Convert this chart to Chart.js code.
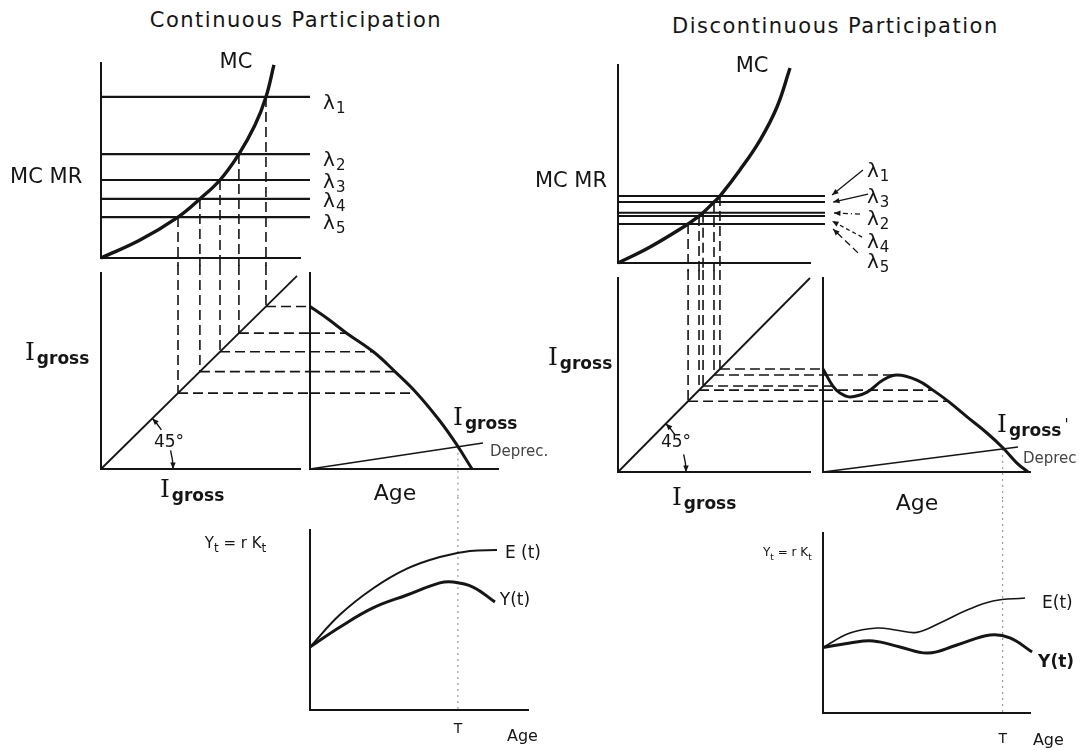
<!DOCTYPE html>
<html>
<head>
<meta charset="utf-8">
<script src="https://cdn.jsdelivr.net/npm/chart.js@4.4.1/dist/chart.umd.min.js"></script>
<style>
  html, body { margin: 0; background: #fff; }
  #page { position: relative; width: 1087px; height: 750px; overflow: hidden; }
  .title { position: absolute; font: 21px "DejaVu Sans", sans-serif; letter-spacing: 1.5px; color: #151515; text-align: center; white-space: nowrap; }
  canvas { position: absolute; }
</style>
</head>
<body>
<div id="page">
  <div class="title" style="left:146px;top:8px;width:300px">Continuous Participation</div>
  <div class="title" style="left:672px;top:14px;width:300px">Discontinuous Participation</div>
</div>
<script>
const INK = '#151515';
const F = '"DejaVu Sans", sans-serif';

// ---- Continuous participation (left)
const lambdaC = [8.26, 5.33, 4.00, 3.03, 2.10];          // λ1..λ5 in the MC panel
const investC = [8.29, 6.93, 5.98, 4.97, 3.87];          // I_gross where MC = λ
const mcCx = [0, 1.96, 3.87, 4.97, 5.98, 6.93, 7.74, 8.29, 8.69];
const mcCy = [0, 0.92, 2.10, 3.03, 4.00, 5.33, 6.82, 8.26, 9.90];
const diagC = [0, 9.85];
const ageAtC = [0, 1.95, 3.37, 4.52, 5.68];
const grossCx = [0, 0.96, 1.95, 3.37, 4.52, 5.68, 6.91, 7.82, 8.62];
const grossCy = [8.29, 7.65, 6.93, 5.98, 4.97, 3.87, 2.45, 1.22, 0];
const deprecCx = [0, 9.2], deprecCy = [0, 1.33];
const tC = [7.87, 1.14];                                  // T and where Deprec meets I_gross
const earnCx = [0, 1.6, 3.35, 5.16, 6.91, 8.51, 9.95];
const earnCy = [3.5, 5.3, 6.75, 7.85, 8.5, 8.83, 8.89];
const yieldCx = [0, 1.6, 3.35, 5.16, 6.91, 7.61, 8.67, 9.84];
const yieldCy = [3.5, 4.61, 5.67, 6.39, 7.06, 7.11, 6.83, 6.0];

// ---- Discontinuous participation (right)
const lambdaD = [3.38, 2.54, 3.08, 2.37, 1.97];          // λ1..λ5
const investD = [5.31, 4.43, 5.00, 4.22, 3.65];
const mcDx = [0, 1.67, 3.65, 4.22, 4.43, 5.00, 5.31, 6.35, 7.40, 8.28, 8.96];
const mcDy = [0, 0.81, 1.97, 2.37, 2.54, 3.08, 3.38, 4.70, 6.21, 7.88, 9.85];
const diagD = [0, 10];
const ageAtD = [0, 0.48, 3.57, 5.31, 6.04];
const grossDx = [0, 0.48, 0.82, 1.3, 2.13, 2.9, 3.57, 4.54, 5.31, 6.04, 6.96, 7.92, 8.7, 9.37, 9.9];
const grossDy = [5.31, 4.43, 4.07, 3.87, 4.12, 4.74, 5.0, 4.74, 4.22, 3.65, 2.84, 2.01, 1.24, 0.46, 0];
const deprecDx = [0, 9.42], deprecDy = [0, 1.29];
const tD = [8.68, 1.19];
const earnDx = [0, 1.3, 2.61, 3.57, 4.54, 5.65, 6.96, 8.21, 9.76];
const earnDy = [3.64, 4.44, 4.72, 4.6, 4.48, 5.0, 5.72, 6.22, 6.39];
const yieldDx = [0, 1.3, 2.42, 3.72, 5.07, 6.47, 8.07, 9.03, 10.1];
const yieldDy = [3.64, 3.89, 4.0, 3.67, 3.33, 3.78, 4.33, 4.17, 3.39];

// panel placement on the page: chart area and canvas box [left, top, right, bottom]
const P = {
  mcC:  { area: [101, 63, 300, 258],   box: [0, 40, 362, 268],    x: [0, 10],   y: [0, 10] },
  dgC:  { area: [101, 273, 300, 469],  box: [0, 263, 314, 508],   x: [0, 10],   y: [0, 10] },
  ageC: { area: [310, 273, 498, 469],  box: [304, 266, 564, 508], x: [0, 10],   y: [0, 10] },
  eyC:  { area: [310, 530, 528, 710],  box: [180, 496, 564, 750], x: [0, 11.6], y: [0, 10] },
  mcD:  { area: [618, 65, 810, 263],   box: [520, 45, 900, 273],  x: [0, 10],   y: [0, 10] },
  dgD:  { area: [618, 278, 810, 472],  box: [540, 268, 827, 515], x: [0, 10],   y: [0, 10] },
  ageD: { area: [823, 278, 1030, 472], box: [815, 270, 1087, 515], x: [0, 10],  y: [0, 10] },
  eyD:  { area: [823, 533, 1030, 713], box: [760, 500, 1087, 750], x: [0, 10],  y: [0, 10] }
};
const perX = p => (p.x[1] - p.x[0]) / (p.area[2] - p.area[0]);
const perY = p => (p.y[1] - p.y[0]) / (p.area[3] - p.area[1]);
const xRight = (p, px) => p.x[1] + px * perX(p);
const yBelow = (p, px) => p.y[0] - px * perY(p);
const yAbove = (p, px) => p.y[1] + px * perY(p);

const pts = (xs, ys) => xs.map((x, i) => ({ x, y: ys[i] }));
const seg = (x0, y0, x1, y1) => [{ x: x0, y: y0 }, { x: x1, y: y1 }];
function ln(data, w, more) {
  return Object.assign({ data, showLine: true, pointRadius: 0, borderColor: INK, borderWidth: w, clip: false, tension: 0 }, more);
}
const curve = { tension: 0.4 };
const dashed = { borderDash: [10, 5] };
const dotted = { borderDash: [2, 4], borderColor: '#888', borderWidth: 1 };

// text helpers: parts = [text, font, dy, dx]
const txt = (x, y, s, font, more) => Object.assign({ x, y, parts: [[s, font]] }, more);
const lam = (n, x, y) => ({ x, y, parts: [['λ', `20px ${F}`], [String(n), `15px ${F}`, 4, 1]] });
const igross = (x, y, prime) => ({ x, y, parts: [['I', '25px "DejaVu Serif", serif'], ['gross', `bold 17px ${F}`, 4, 2]]
  .concat(prime ? [["'", `15px ${F}`, -2, 3]] : []) });
const ykt = (x, y, size) => ({ x, y, parts: [['Y', `${size}px ${F}`], ['t', `${size - 3}px ${F}`, 4], [' = r K', `${size}px ${F}`], ['t', `${size - 3}px ${F}`, 4]] });

function head(ctx, x, y, ang, s) {
  ctx.beginPath();
  ctx.moveTo(x, y);
  ctx.lineTo(x - s * Math.cos(ang - 0.4), y - s * Math.sin(ang - 0.4));
  ctx.lineTo(x - s * Math.cos(ang + 0.4), y - s * Math.sin(ang + 0.4));
  ctx.closePath();
  ctx.fill();
}

// labels, arrows and the 45° arc, placed through the panel scales
const notes = {
  id: 'notes',
  afterDatasetsDraw(chart, _args, o) {
    const { ctx, scales: { x, y } } = chart;
    ctx.save();
    ctx.fillStyle = INK;
    ctx.strokeStyle = INK;
    (o.arrows || []).forEach(a => {
      const x0 = x.getPixelForValue(a.from[0]), y0 = y.getPixelForValue(a.from[1]);
      const x1 = x.getPixelForValue(a.to[0]), y1 = y.getPixelForValue(a.to[1]);
      ctx.lineWidth = 1.3;
      ctx.setLineDash(a.dash || []);
      ctx.beginPath(); ctx.moveTo(x0, y0); ctx.lineTo(x1, y1); ctx.stroke();
      ctx.setLineDash([]);
      head(ctx, x1, y1, Math.atan2(y1 - y0, x1 - x0), 7);
    });
    if (o.arc) {
      const cx = x.getPixelForValue(0), cy = y.getPixelForValue(0);
      const top = Math.atan2(y.getPixelForValue(10) - cy, x.getPixelForValue(10) - cx);
      const r = o.arc.r, d = Math.PI / 180;
      ctx.lineWidth = 1.4;
      ctx.beginPath(); ctx.arc(cx, cy, r, -o.arc.gap[0] * d, 0); ctx.stroke();
      ctx.beginPath(); ctx.arc(cx, cy, r, top, -o.arc.gap[1] * d); ctx.stroke();
      head(ctx, cx + r, cy, Math.PI / 2, 7);
      head(ctx, cx + r * Math.cos(top), cy + r * Math.sin(top), Math.atan2(-Math.cos(top), Math.sin(top)), 7);
    }
    ctx.textAlign = 'left';
    ctx.textBaseline = 'alphabetic';
    (o.texts || []).forEach(t => {
      let w = 0;
      t.parts.forEach(([s, f, dy, dx]) => { ctx.font = f; w += ctx.measureText(s).width + (dx || 0); });
      let px = x.getPixelForValue(t.x) - (t.align === 'center' ? w / 2 : t.align === 'right' ? w : 0);
      const py = y.getPixelForValue(t.y);
      ctx.fillStyle = t.color || INK;
      t.parts.forEach(([s, f, dy, dx]) => {
        ctx.font = f;
        px += dx || 0;
        ctx.fillText(s, px, py + (dy || 0));
        px += ctx.measureText(s).width;
      });
    });
    ctx.restore();
  }
};

function panel(p, datasets, opts) {
  const [l, t, r, b] = p.box;
  const cv = document.createElement('canvas');
  cv.width = r - l; cv.height = b - t;
  cv.style.left = l + 'px'; cv.style.top = t + 'px';
  cv.style.width = (r - l) + 'px'; cv.style.height = (b - t) + 'px';
  document.getElementById('page').appendChild(cv);
  const axis = (min, max, fit) => ({
    type: 'linear', min, max,
    ticks: { display: false },
    grid: { display: false, drawTicks: false },
    border: { display: true, color: INK, width: 2 },
    afterFit: fit
  });
  return new Chart(cv, {
    type: 'scatter',
    data: { datasets },
    options: {
      responsive: false, animation: false, devicePixelRatio: 1,
      layout: { padding: { left: p.area[0] - l, top: p.area[1] - t, right: r - p.area[2], bottom: b - p.area[3] } },
      plugins: { legend: { display: false }, tooltip: { enabled: false }, notes: opts },
      scales: {
        x: axis(p.x[0], p.x[1], s => { s.height = 0; }),
        y: axis(p.y[0], p.y[1], s => { s.width = 0; })
      }
    },
    plugins: [notes]
  });
}

// ================= Continuous participation =================
panel(P.mcC, [
  ln(pts(mcCx, mcCy), 3.4, curve),
  ...lambdaC.map(v => ln(seg(0, v, xRight(P.mcC, 10), v), 2.2)),
  ...investC.map((I, i) => ln(seg(I, lambdaC[i], I, yBelow(P.mcC, 8)), 1.6, dashed))
], {
  texts: [
    txt(6.78, 9.74, 'MC', `21px ${F}`, { align: 'center' }),
    txt(-4.57, 3.85, 'MC MR', `21px ${F}`),
    lam(1, 11.16, 7.64), lam(2, 11.16, 4.72), lam(3, 11.16, 3.59), lam(4, 11.16, 2.62), lam(5, 11.16, 1.49)
  ]
});

panel(P.dgC, [
  ln(pts(diagC, diagC), 1.8),
  ...investC.map(I => ln(seg(I, yAbove(P.dgC, 8), I, I), 1.6, dashed)),
  ...investC.map(I => ln(seg(I, I, xRight(P.dgC, 10), I), 1.6, dashed))
], {
  arc: { r: 72, gap: [15, 33] },
  texts: [
    igross(-3.82, 5.56),
    txt(3.42, 1.12, '45°', `17px ${F}`, { align: 'center' }),
    igross(2.96, -1.43)
  ]
});

panel(P.ageC, [
  ln(pts(grossCx, grossCy), 3, curve),
  ln(pts(deprecCx, deprecCy), 1.6),
  ...investC.map((I, i) => ln(seg(0, I, ageAtC[i], I), 1.6, dashed)),
  ln(seg(tC[0], tC[1], tC[0], yBelow(P.ageC, 31)), 1, dotted)
], {
  texts: [
    txt(4.52, -1.58, 'Age', `22px ${F}`, { align: 'center' }),
    igross(7.61, 2.24),
    txt(9.57, 0.66, 'Deprec.', `15px ${F}`, { color: '#444' })
  ]
});

panel(P.eyC, [
  ln(pts(earnCx, earnCy), 2, curve),
  ln(pts(yieldCx, yieldCy), 3, curve),
  ln(seg(tC[0], yAbove(P.eyC, 33), tC[0], 0), 1, dotted)
], {
  texts: [
    txt(10.37, 8.44, 'E (t)', `17px ${F}`),
    txt(10.1, 5.83, 'Y(t)', `17px ${F}`),
    txt(tC[0], -1.28, 'T', `14px ${F}`, { align: 'center' }),
    txt(10.48, -1.72, 'Age', `16px ${F}`),
    ykt(-5.6, 9.0, 15)
  ]
});

// ================= Discontinuous participation =================
panel(P.mcD, [
  ln(pts(mcDx, mcDy), 3.4, curve),
  ...lambdaD.map(v => ln(seg(0, v, xRight(P.mcD, 15), v), 2)),
  ...investD.map((I, i) => ln(seg(I, lambdaD[i], I, yBelow(P.mcD, 8)), 1.6, dashed))
], {
  texts: [
    txt(6.98, 9.65, 'MC', `21px ${F}`, { align: 'center' }),
    txt(-0.57, 3.84, 'MC MR', `21px ${F}`, { align: 'right' }),
    lam(1, 12.97, 4.34), lam(3, 12.97, 3.03), lam(2, 12.97, 1.92), lam(4, 12.97, 0.76), lam(5, 12.97, -0.25)
  ],
  arrows: [
    { from: [12.76, 4.70], to: [11.15, 3.43] },
    { from: [13.02, 3.48], to: [11.20, 3.08] },
    { from: [12.60, 2.47], to: [11.25, 2.53], dash: [5, 3, 1, 3] },
    { from: [12.71, 1.31], to: [11.15, 2.12], dash: [4, 3] },
    { from: [12.50, 0.51], to: [11.20, 1.72], dash: [7, 4] }
  ]
});

panel(P.dgD, [
  ln(pts(diagD, diagD), 1.8),
  ...investD.map(I => ln(seg(I, yAbove(P.dgD, 8), I, I), 1.6, dashed)),
  ...investD.map(I => ln(seg(I, I, xRight(P.dgD, 13), I), 1.6, dashed))
], {
  arc: { r: 68, gap: [15, 33] },
  texts: [
    igross(-3.65, 5.52),
    txt(3.02, 1.29, '45°', `17px ${F}`, { align: 'center' }),
    igross(2.81, -1.70)
  ]
});

panel(P.ageD, [
  ln(pts(grossDx, grossDy), 3, curve),
  ln(pts(deprecDx, deprecDy), 1.6),
  ...investD.map((I, i) => ln(seg(0, I, ageAtD[i], I), 1.6, dashed)),
  ln(seg(tD[0], tD[1], tD[0], yBelow(P.ageD, 31)), 1, dotted)
], {
  texts: [
    txt(4.54, -1.96, 'Age', `22px ${F}`, { align: 'center' }),
    igross(8.41, 2.06, true),
    txt(9.66, 0.46, 'Deprec', `15px ${F}`, { color: '#444' })
  ]
});

panel(P.eyD, [
  ln(pts(earnDx, earnDy), 1.6, curve),
  ln(pts(yieldDx, yieldDy), 3, curve),
  ln(seg(tD[0], yAbove(P.eyD, 33), tD[0], 0), 1, dotted)
], {
  texts: [
    ykt(-2.9, 8.72, 12),
    txt(10.58, 5.83, 'E(t)', `17px ${F}`),
    txt(10.39, 2.56, 'Y(t)', `bold 17px ${F}`),
    txt(tD[0], -1.67, 'T', `14px ${F}`, { align: 'center' }),
    txt(10.14, -1.78, 'Age', `16px ${F}`)
  ]
});
</script>
</body>
</html>
